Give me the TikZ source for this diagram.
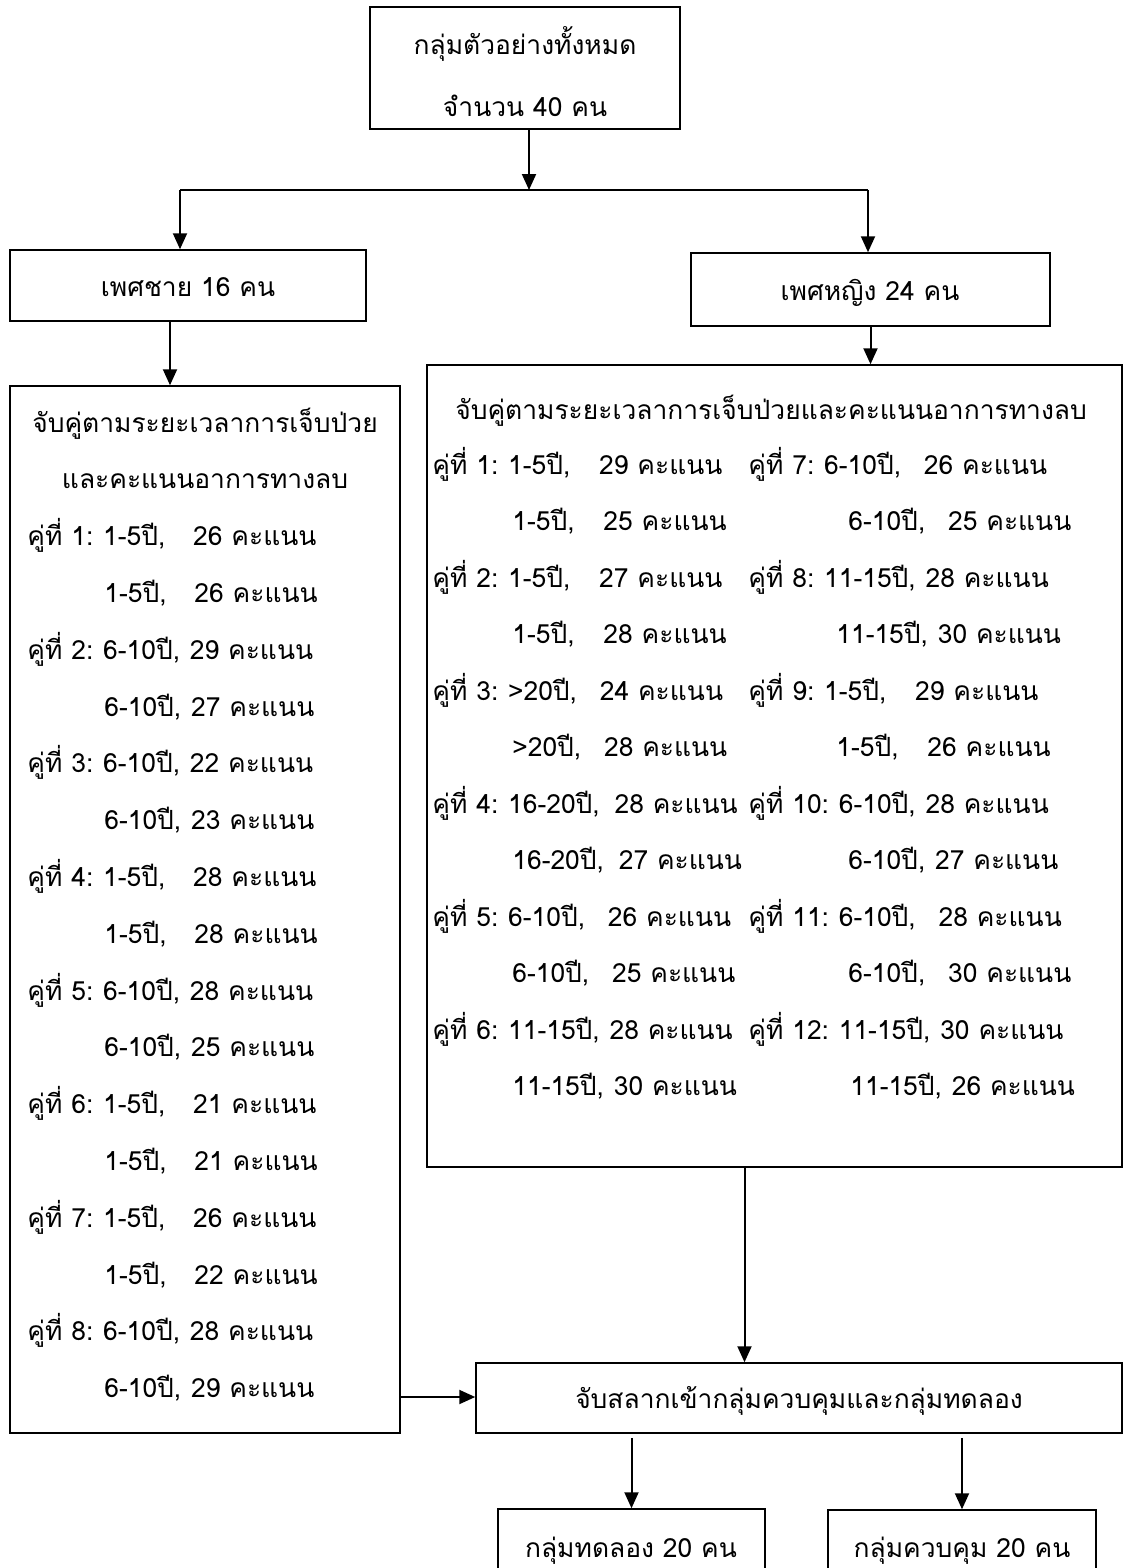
\documentclass[tikz,border=0pt]{standalone}
\usepackage{fontspec}
\setmainfont[Script=Thai]{Loma}
\usetikzlibrary{arrows.meta,calc}
\newcommand\thaisize{\fontsize{13.2pt}{16pt}\selectfont}
\tikzset{
  frame/.style={draw, line width=0.75pt, inner sep=0pt},
  arr/.style={line width=1pt, -{Triangle[length=8pt,width=7pt]}},
  txt/.style={anchor=base west, inner sep=0pt, font=\thaisize},
  ctxt/.style={anchor=base, inner sep=0pt, font=\thaisize},
}
% empty framed box from corner (x1,y1) to corner (x2,y2), in pixel units
\newcommand\boxat[5]{\node[frame, minimum width={(#4-#2)*0.5pt}, minimum height={(#5-#3)*0.5pt}] (#1) at ({(#2+#4)/2},{(#3+#5)/2}) {};}
% pair row: name, baseline, x label, label, x years, years, gap before score (px), score
\newcommand\pairrow[8]{%
  \node[txt] (#1l) at (#3,#2) {#4};
  \path let \p1=(#1l.base east) in node[txt] (#1y) at ({max(\x1+4.5pt,#5*0.5pt)},\y1) {#6};
  \path let \p1=(#1y.base east) in node[txt] (#1s) at ({\x1+#7*0.5pt},\y1) {#8 คะแนน};}
% continuation row: name, baseline, x years, years, gap before score (px), score
\newcommand\controw[6]{%
  \node[txt] (#1y) at (#3,#2) {#4};
  \path let \p1=(#1y.base east) in node[txt] (#1s) at ({\x1+#5*0.5pt},\y1) {#6 คะแนน};}
\begin{document}
\begin{tikzpicture}[x=0.5pt, y=-0.5pt]
\useasboundingbox (0,0) rectangle (1124,1568);

% boxes
\boxat{top}{370}{7}{680}{129}
\boxat{male}{10}{250}{366}{321}
\boxat{female}{691}{253}{1050}{326}
\boxat{lb}{10}{386}{400}{1433}
\boxat{rb}{427}{365}{1122}{1167}
\boxat{lot}{476}{1363}{1122}{1433}
\boxat{exp}{498}{1509}{765}{1571}
\boxat{ctl}{828}{1510}{1096}{1571}

% single texts
\node[ctxt] (topa) at (525,55) {กลุ่มตัวอย่างทั้งหมด};
\node[ctxt] (topb) at (525,117) {จำนวน 40 คน};
\node[ctxt] (malet) at (188,296) {เพศชาย 16 คน};
\node[ctxt] (femt) at (870,300) {เพศหญิง 24 คน};
\node[ctxt] (lott) at (799,1408) {จับสลากเข้ากลุ่มควบคุมและกลุ่มทดลอง};
\node[ctxt] (expt) at (631,1557) {กลุ่มทดลอง 20 คน};
\node[ctxt] (ctlt) at (962,1557) {กลุ่มควบคุม 20 คน};

% male pairs
\node[ctxt] (lha) at (205,432) {จับคู่ตามระยะเวลาการเจ็บป่วย};
\node[ctxt] (lhb) at (205,488.8) {และคะแนนอาการทางลบ};
\pairrow{ma1}{545.6}{27}{คู่ที่ 1:}{93}{1-5ปี,}{27}{26}
\controw{mb1}{602.4}{104}{1-5ปี,}{27}{26}
\pairrow{ma2}{659.2}{27}{คู่ที่ 2:}{93}{6-10ปี,}{9}{29}
\controw{mb2}{716}{104}{6-10ปี,}{9}{27}
\pairrow{ma3}{772.8}{27}{คู่ที่ 3:}{93}{6-10ปี,}{9}{22}
\controw{mb3}{829.6}{104}{6-10ปี,}{9}{23}
\pairrow{ma4}{886.4}{27}{คู่ที่ 4:}{93}{1-5ปี,}{27}{28}
\controw{mb4}{943.2}{104}{1-5ปี,}{27}{28}
\pairrow{ma5}{1000}{27}{คู่ที่ 5:}{93}{6-10ปี,}{9}{28}
\controw{mb5}{1056.8}{104}{6-10ปี,}{9}{25}
\pairrow{ma6}{1113.6}{27}{คู่ที่ 6:}{93}{1-5ปี,}{27}{21}
\controw{mb6}{1170.4}{104}{1-5ปี,}{27}{21}
\pairrow{ma7}{1227.2}{27}{คู่ที่ 7:}{93}{1-5ปี,}{27}{26}
\controw{mb7}{1284}{104}{1-5ปี,}{27}{22}
\pairrow{ma8}{1340.8}{27}{คู่ที่ 8:}{93}{6-10ปี,}{9}{28}
\controw{mb8}{1397.6}{104}{6-10ปี,}{9}{29}

% female pairs
\node[ctxt] (rh) at (771,419) {จับคู่ตามระยะเวลาการเจ็บป่วยและคะแนนอาการทางลบ};
\pairrow{fa1}{474}{432}{คู่ที่ 1:}{504}{1-5ปี,}{28}{29}
\controw{fb1}{530.5}{512}{1-5ปี,}{28}{25}
\pairrow{fa2}{587}{432}{คู่ที่ 2:}{504}{1-5ปี,}{28}{27}
\controw{fb2}{643.5}{512}{1-5ปี,}{28}{28}
\pairrow{fa3}{700}{432}{คู่ที่ 3:}{504}{>20ปี,}{22}{24}
\controw{fb3}{756.5}{512}{>20ปี,}{22}{28}
\pairrow{fa4}{813}{432}{คู่ที่ 4:}{504}{16-20ปี,}{14}{28}
\controw{fb4}{869.5}{512}{16-20ปี,}{14}{27}
\pairrow{fa5}{926}{432}{คู่ที่ 5:}{504}{6-10ปี,}{22}{26}
\controw{fb5}{982.5}{512}{6-10ปี,}{22}{25}
\pairrow{fa6}{1039}{432}{คู่ที่ 6:}{504}{11-15ปี,}{9}{28}
\controw{fb6}{1095.5}{512}{11-15ปี,}{9}{30}

\pairrow{fa7}{474}{748}{คู่ที่ 7:}{811}{6-10ปี,}{22}{26}
\controw{fb7}{530.5}{848}{6-10ปี,}{22}{25}
\pairrow{fa8}{587}{748}{คู่ที่ 8:}{811}{11-15ปี,}{9}{28}
\controw{fb8}{643.5}{836}{11-15ปี,}{9}{30}
\pairrow{fa9}{700}{748}{คู่ที่ 9:}{811}{1-5ปี,}{28}{29}
\controw{fb9}{756.5}{836}{1-5ปี,}{28}{26}
\pairrow{fa10}{813}{748}{คู่ที่ 10:}{823}{6-10ปี,}{9}{28}
\controw{fb10}{869.5}{848}{6-10ปี,}{9}{27}
\pairrow{fa11}{926}{748}{คู่ที่ 11:}{823}{6-10ปี,}{22}{28}
\controw{fb11}{982.5}{848}{6-10ปี,}{22}{30}
\pairrow{fa12}{1039}{748}{คู่ที่ 12:}{823}{11-15ปี,}{9}{30}
\controw{fb12}{1095.5}{850}{11-15ปี,}{9}{26}

% connectors
\coordinate (split) at (529,190);
\coordinate (sl) at (180,190);
\coordinate (sr) at (868,190);
\coordinate (lbo) at (400,1397);
\draw[arr] (top.south -| split) -- (split);
\draw[line width=1pt] (sl) -- (sr);
\draw[arr] (sl) -- (sl |- male.north);
\draw[arr] (sr) -- (sr |- female.north);
\draw[arr] ([xshift=-9pt]male.south) -- ([xshift=-9pt]male.south |- lb.north);
\draw[arr] (female.south) -- (female.south |- rb.north);
\draw[arr] ([xshift=-15pt]rb.south) -- ([xshift=-15pt]rb.south |- lot.north);
\draw[arr] (lbo) -- (lbo -| lot.west);
\draw[arr] ([yshift=-2pt]lot.south -| exp.north) -- (exp.north);
\draw[arr] ([yshift=-2pt]lot.south -| ctl.north) -- (ctl.north);
\end{tikzpicture}
\end{document}
